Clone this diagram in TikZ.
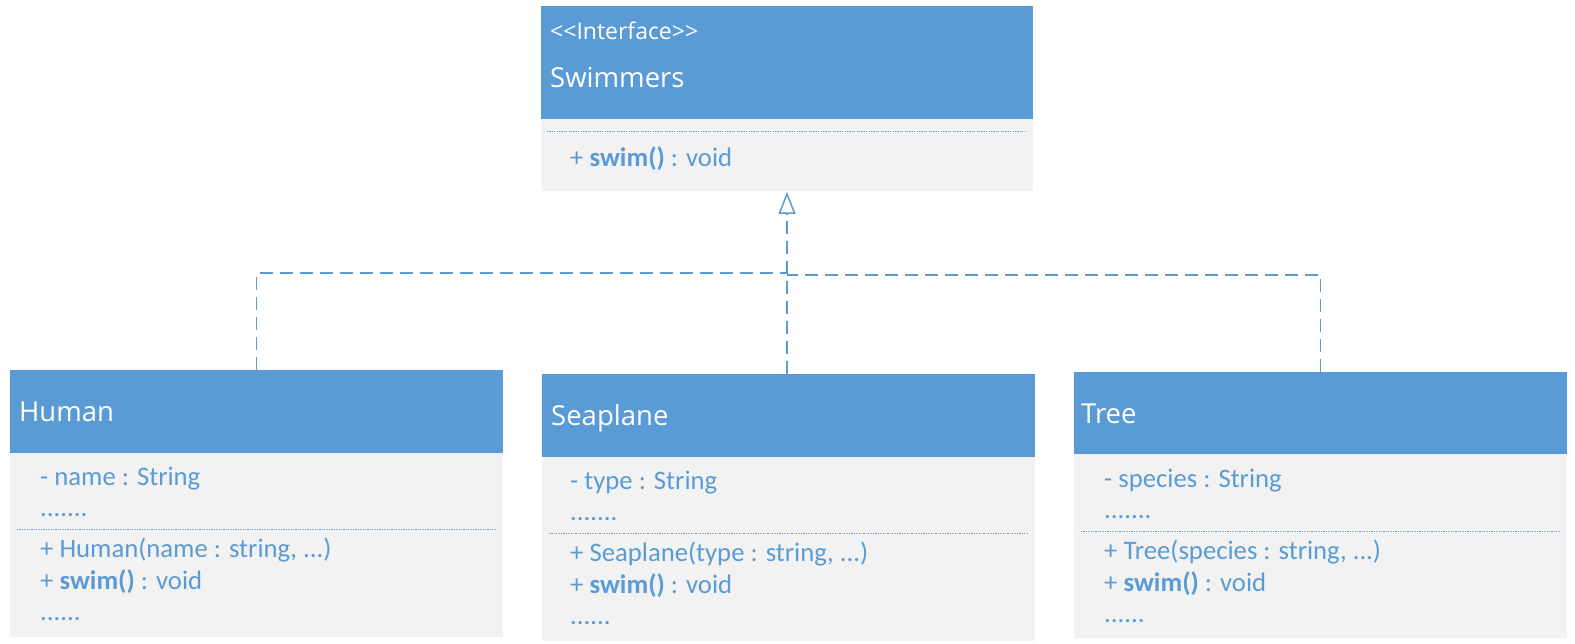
\documentclass[tikz,border=0pt]{standalone}
\usepackage{fontspec}
\setmainfont{Carlito}
\newfontfamily\hdrfont{Open Sans}
\usetikzlibrary{arrows.meta}
\definecolor{umlblue}{HTML}{5B9BD5}
\definecolor{umlgray}{HTML}{F2F2F2}
\tikzset{
  x=1pt, y=-1pt,
  hdrbox/.style={fill=umlblue, draw=none, inner sep=0pt, outer sep=0pt, anchor=north west},
  bodybox/.style={fill=umlgray, draw=none, inner sep=0pt, outer sep=0pt, anchor=north west},
  hdrtext/.style={anchor=base west, inner sep=0pt, text=white, font=\hdrfont\fontsize{27.5}{32}\selectfont},
  stereo/.style={anchor=base west, inner sep=0pt, text=white, font=\hdrfont\fontsize{23}{27}\selectfont},
  mbr/.style={anchor=base west, inner sep=0pt, text=umlblue, font=\fontsize{26.7}{32}\selectfont},
  sepline/.style={draw=umlblue, line width=0.9pt, dash pattern=on 1.2pt off 1.2pt},
  realize/.style={draw=umlblue, line width=1.5pt, dash pattern=on 13pt off 7pt},
}
\begin{document}
\begin{tikzpicture}
\useasboundingbox (0,0) rectangle (1575,644);
% Swimmers
\node[hdrbox, minimum width=492pt, minimum height=113pt] (swH) at (541,6) {};
\node[bodybox, minimum width=492pt, minimum height=72pt] (swB) at (541,119) {};
\node[stereo] (swS) at (550,40) {<{}<Interface>{}>};
\node[hdrtext] (swN) at (550,88) {Swimmers};
\coordinate (swL) at (547,131); \coordinate (swR) at (1027,131);
\draw[sepline] (swL) -- (swR);
\node[mbr] (swM) at (570,167) {+ \textbf{swim()} : void};
% Human
\node[hdrbox, minimum width=493pt, minimum height=83pt] (huH) at (10,370) {};
\node[bodybox, minimum width=493pt, minimum height=184pt] (huB) at (10,453) {};
\node[hdrtext] (huN) at (19,421) {Human};
\node[mbr] (hu1) at (40,485) {- name : String};
\node[mbr] (hu2) at (40,516) {.......};
\coordinate (huL) at (17,529); \coordinate (huR) at (495,529);
\draw[sepline] (huL) -- (huR);
\node[mbr] (hu3) at (40,557) {+ Human(name : string, ...)};
\node[mbr] (hu4) at (40,589) {+ \textbf{swim()} : void};
\node[mbr] (hu5) at (40,620) {......};
% Seaplane
\node[hdrbox, minimum width=493pt, minimum height=83pt] (seH) at (542,374) {};
\node[bodybox, minimum width=493pt, minimum height=184pt] (seB) at (542,457) {};
\node[hdrtext] (seN) at (551,425) {Seaplane};
\node[mbr] (se1) at (570,489) {- type : String};
\node[mbr] (se2) at (570,520) {.......};
\coordinate (seL) at (549,533); \coordinate (seR) at (1027,533);
\draw[sepline] (seL) -- (seR);
\node[mbr] (se3) at (570,561) {+ Seaplane(type : string, ...)};
\node[mbr] (se4) at (570,593) {+ \textbf{swim()} : void};
\node[mbr] (se5) at (570,624) {......};
% Tree
\node[hdrbox, minimum width=493pt, minimum height=82pt] (trH) at (1074,372) {};
\node[bodybox, minimum width=493pt, minimum height=184pt] (trB) at (1074,454) {};
\node[hdrtext] (trN) at (1081,423) {Tree};
\node[mbr] (tr1) at (1104,487) {- species : String};
\node[mbr] (tr2) at (1104,518) {.......};
\coordinate (trL) at (1081,531); \coordinate (trR) at (1559,531);
\draw[sepline] (trL) -- (trR);
\node[mbr] (tr3) at (1104,559) {+ Tree(species : string, ...)};
\node[mbr] (tr4) at (1104,591) {+ \textbf{swim()} : void};
\node[mbr] (tr5) at (1104,622) {......};
% connectors
\coordinate (jl) at (787,273);
\coordinate (jr) at (787,275);
\coordinate (tip) at (787,192);
\draw[realize] (huH.north) -- (huH.north |- jl) -- (jl);
\draw[realize] (trH.north) -- (trH.north |- jr) -- (jr);
\draw[realize, -{Triangle[open, length=22pt, width=17pt]}] (seH.north -| tip) -- (tip);
\end{tikzpicture}
\end{document}
